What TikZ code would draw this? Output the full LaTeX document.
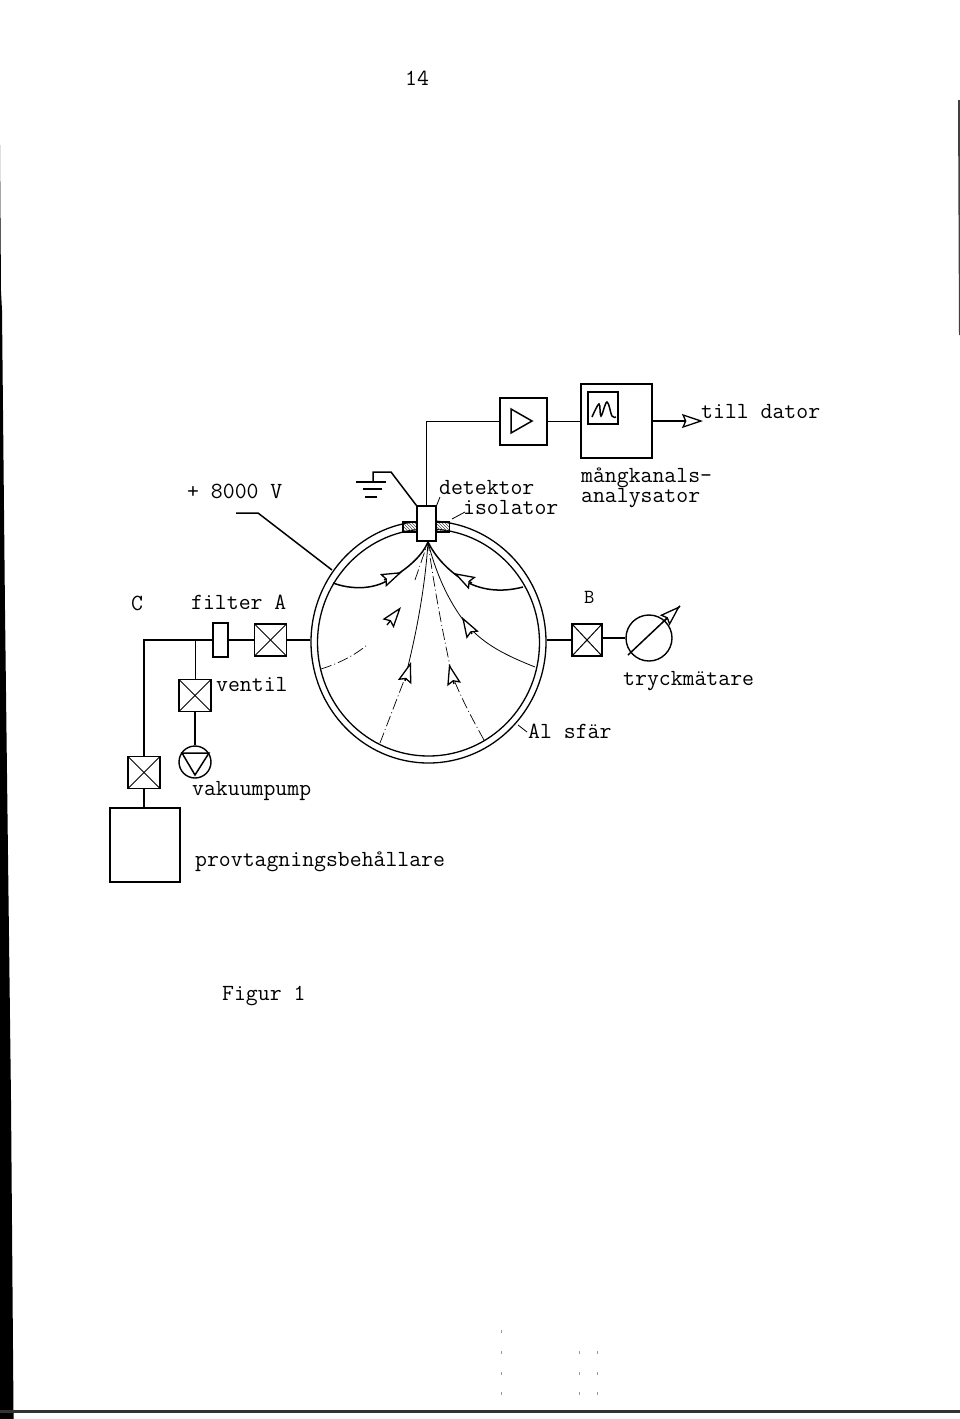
\documentclass[tikz,border=0pt]{standalone}
\usepackage{tikz}
\usetikzlibrary{positioning,arrows.meta,patterns,shapes.geometric}
\tikzstyle{txt} = [font=\fontsize{23.1}{24}\selectfont\ttfamily, inner sep=0pt, anchor=base west]
\tikzstyle{box} = [draw, line width=1.4pt, inner sep=0pt, fill=white]
\tikzstyle{valve} = [box, minimum size=32pt, path picture={
	\draw[line width=1pt] (path picture bounding box.north west) -- (path picture bounding box.south east);
	\draw[line width=1pt] (path picture bounding box.north east) -- (path picture bounding box.south west);}]
\tikzstyle{hatch} = [box, fill=none, pattern=north west lines, pattern color=black!70]
\tikzstyle{shell} = [draw, ellipse, line width=1.3pt, inner sep=0pt]
\tikzstyle{wire} = [line width=1.5pt]
\tikzstyle{thin wire} = [line width=0.8pt]
\tikzstyle{faint} = [line width=0.7pt, dash pattern=on 11pt off 3pt on 1pt off 3pt]
\tikzstyle{head} = [line width=1.3pt, -{Stealth[open, fill=white, length=21pt, width=14pt, inset=3pt]}]
\begin{document}
\begin{tikzpicture}[x=1pt, y=-1pt]
	\useasboundingbox (0,0) rectangle (960,1419);
	% scan edges
	\fill (0,145) -- (1,291) -- (2,310) -- (5,610) -- (11,1100) -- (13.5,1412) -- (13.5,1419) -- (0,1419) -- cycle;
	\fill[black!75] (958,100) -- (960,100) -- (960,335) -- (959,335) -- cycle;
	\fill[black!80] (0,1410) rectangle (960,1413);
	\foreach \px/\py in {501/1330, 501/1351, 501/1372, 501/1392, 579/1351, 579/1372, 579/1392, 597/1351, 597/1372, 597/1392}
		\fill[black!40] (\px,\py) rectangle +(1,3);
	% sphere
	\node[shell, minimum width=235pt, minimum height=242pt] (outer) at (428.5,642) {};
	\node[shell, minimum width=222pt, minimum height=227pt] (inner) at (428.5,642.5) {};
	% detector on top
	\node[hatch, minimum width=14pt, minimum height=10pt] (isoleft) at (410,527) {};
	\node[hatch, minimum width=14pt, minimum height=10pt] (isoright) at (442.5,527) {};
	\node[box, minimum width=19pt, minimum height=35pt] (det) at (426.5,523.5) {};
	% electronics
	\node[box, minimum size=47pt] (amp) at (523.5,421.5) {};
	\draw[wire] (511,409) -- (511,433) -- (532,421) -- cycle;
	\node[box, minimum width=71pt, minimum height=74pt] (mca) at (616.5,421) {};
	\node[box, minimum width=30pt, minimum height=32pt] (screen) at (603,408) {};
	\draw[wire] plot[smooth, tension=0.6] coordinates {(592,417) (599,404) (601,416) (607,402) (612,416) (616,417)};
	\coordinate (dator) at (703,421);
	\draw[wire] (det.north) -- (det.north |- amp.west) -- (amp.west);
	\draw[wire] (amp.east) -- (amp.east -| mca.west);
	\draw[wire] (mca.east |- dator) -- (683,421);
	\draw[head] (683,421) -- (dator);
	% high voltage and ground
	\coordinate (hvend) at (332,570);
	\draw[wire] (236,513) -- (258,513) -- (hvend);
	\coordinate (gnd) at (373,482);
	\draw[wire] (det.north west) -- (391,472) -- (373,472) -- (gnd);
	\draw[wire] (356,482) -- (386,482);
	\draw[wire] (363,489) -- (382,489);
	\draw[wire] (365,497) -- (377,497);
	% leaders
	\draw[thin wire] (det.north east) -- (440,497);
	\draw[thin wire] (452,519) -- (465,512);
	\draw[thin wire] (518,725) -- (527,732);
	% left side pipes
	\node[valve] (valvea) at (270.5,640) {};
	\node[box, minimum width=15pt, minimum height=34pt] (filter) at (220.5,640) {};
	\node[valve] (ventil) at (195,695.5) {};
	\node[box, circle, minimum size=32pt] (pump) at (195,762) {};
	\draw[wire] (182,753) -- (209,753) -- (195,775) -- cycle;
	\node[valve] (valvec) at (144,772.5) {};
	\node[box, minimum width=70pt, minimum height=74pt] (tank) at (145,845) {};
	\coordinate (tee) at (195,640);
	\draw[wire] (outer.west |- valvea.east) -- (valvea.east);
	\draw[wire] (valvea.west) -- (filter.east);
	\draw[wire] (filter.west) -- (tee);
	\draw[wire] (tee) -| (valvec.north);
	\draw[thin wire] (tee) -- (ventil.north);
	\draw[wire] (ventil.south) -- (pump.north);
	\draw[wire] (valvec.south) -- (valvec.south |- tank.north);
	% right side
	\node[valve, minimum width=30pt] (valveb) at (587,640) {};
	\node[box, circle, minimum size=46pt] (gauge) at (649,638) {};
	\coordinate (gaugea) at (628,655);
	\coordinate (gaugeb) at (680,606);
	\draw[wire] (outer.east |- valveb.west) -- (valveb.west);
	\draw[wire] (valveb.east |- gauge.west) -- (gauge.west);
	\draw[wire] (gaugea) -- (gaugeb);
	\draw[head] (664,621) -- (gaugeb);
	% paths inside the sphere
	\coordinate (conv) at (428,542);
	\draw[wire] (333,583) .. controls (352,590) and (376,590) .. (393,577);
	\draw[wire] (393,577) .. controls (408,568) and (422,556) .. (conv);
	\draw[wire] (523,587) .. controls (500,593) and (480,590) .. (463,580);
	\draw[wire] (463,580) .. controls (448,570) and (436,558) .. (conv);
	\draw[thin wire] (535,667) .. controls (505,655) and (485,645) .. (467,625);
	\draw[thin wire] (467,625) .. controls (447,600) and (435,570) .. (conv);
	\draw[thin wire] (405,678) .. controls (415,640) and (425,590) .. (conv);
	\draw[faint] (380,743) -- (405,678);
	\draw[faint] (484,740) .. controls (470,715) and (460,695) .. (452,675);
	\draw[faint] (452,675) .. controls (442,630) and (433,580) .. (conv);
	\draw[faint] (321,669) .. controls (340,663) and (355,655) .. (367,645);
	\draw[faint] (415,580) -- (conv);
	\draw[head] (384,580) -- (402,572);
	\draw[head] (472,583) -- (454,573);
	\draw[head] (387,625) -- (401,607);
	\draw[head] (472,634) -- (462,617);
	\draw[head] (405,681) -- (411,662);
	\draw[head] (454,684) -- (449,664);
	% labels
	\node[txt] (page) at (405,85) {14};
	\node[txt] (hv) at (187,498) {+ 8000 V};
	\node[txt] (till) at (701,418) {till dator};
	\node[txt] (detektor) at (439,494) {detektor};
	\node[txt] (isolator) at (463,514) {isolator};
	\node[txt] (mang) at (581,482) {mångkanals-};
	\node[txt] (analys) at (581,502) {analysator};
	\node[txt] (c) at (131,610) {C};
	\node[txt] (filtera) at (191,609) {filter A};
	\node[txt, font=\fontsize{20}{20}\selectfont\ttfamily] (b) at (584,603) {B};
	\node[txt] (ventiltxt) at (216,691) {ventil};
	\node[txt] (tryck) at (623,685) {tryckmätare};
	\node[txt] (al) at (528,738) {Al sfär};
	\node[txt] (vakuum) at (192,795) {vakuumpump};
	\node[txt] (prov) at (195,866) {provtagningsbehållare};
	\node[txt] (figur) at (222,1000) {Figur 1};
\end{tikzpicture}
\end{document}
